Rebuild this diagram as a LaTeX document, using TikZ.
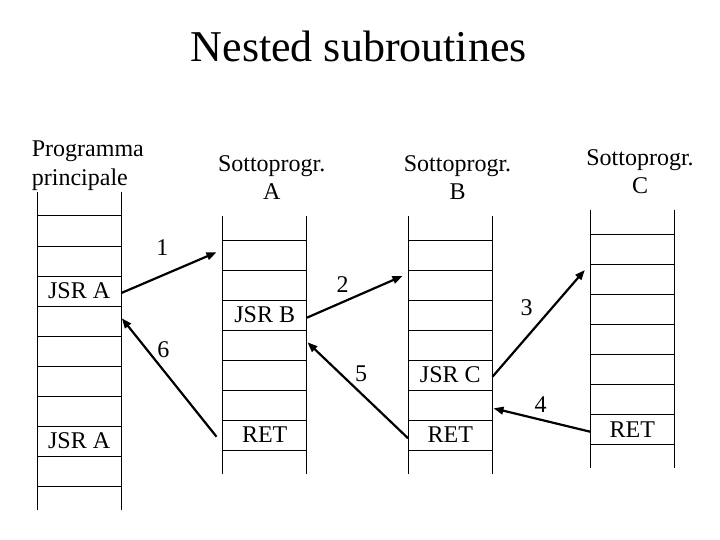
\documentclass[tikz,border=0pt]{standalone}
\usepackage{fontspec}
\setmainfont{Liberation Serif}
\usetikzlibrary{arrows.meta}
\tikzset{
    cell/.style={minimum width=84pt, minimum height=30pt, inner sep=0pt, font=\fontsize{24}{28.5}\selectfont},
    head/.style={inner sep=0pt, font=\fontsize{24}{28.3}\selectfont},
    num/.style={inner sep=0pt, font=\fontsize{24}{28}\selectfont},
    col/.style={line width=1pt},
    call/.style={line width=2.2pt, -{Triangle[length=10pt,width=7.5pt]}}
}
\begin{document}
\begin{tikzpicture}[x=1pt,y=-1pt]
                \path[fill=white, use as bounding box] (0,0) rectangle (720,540);
                \node[inner sep=0pt, anchor=base, font=\fontsize{44}{50}\selectfont] (title) at (358.8,61.7) {Nested subroutines};
                % column headings
                \node[head, align=left, anchor=west] (hmain) at (31.7,165.6) {Programma\\principale};
                \node[head, align=center] (hA) at (271.7,177.8) {Sottoprogr.\\A};
                \node[head, align=center] (hB) at (457.5,177.8) {Sottoprogr.\\B};
                \node[head, align=center] (hC) at (640,171.8) {Sottoprogr.\\C};
                % stacks
                \draw[col] (37.3,192) -- (37.3,510) (121,192) -- (121,510);
                \foreach \y in {216,246,...,486} \draw[col] (37.3,\y) -- (121,\y);
                \draw[col] (222.7,216) -- (222.7,474) (306.7,216) -- (306.7,474);
                \foreach \y in {240,270,...,450} \draw[col] (222.7,\y) -- (306.7,\y);
                \draw[col] (408.3,216) -- (408.3,474) (492.3,216) -- (492.3,474);
                \foreach \y in {240,270,...,450} \draw[col] (408.3,\y) -- (492.3,\y);
                \draw[col] (590.3,210) -- (590.3,468) (674.3,210) -- (674.3,468);
                \foreach \y in {234.3,264.3,...,444.3} \draw[col] (590.3,\y) -- (674.3,\y);
                % cells
                \node[cell] (m4) at (79.15,291) {JSR A};
                \node[cell] (m5) at (79.15,321) {};
                \node[cell] (m9) at (79.15,441) {JSR A};
                \node[cell] (a2) at (264.7,255) {};
                \node[cell] (a4) at (264.7,315) {JSR B};
                \node[cell] (a5) at (264.7,345) {};
                \node[cell] (a8) at (264.7,435) {RET};
                \node[cell] (b3) at (450.3,285) {};
                \node[cell] (b6) at (450.3,375) {JSR C};
                \node[cell] (b7) at (450.3,405) {};
                \node[cell] (b8) at (450.3,435) {RET};
                \node[cell] (c3) at (632.3,279.3) {};
                \node[cell] (c8) at (632.3,429.3) {RET};
                % calls and returns
                \draw[call] ([shift={(0,2)}]m4.east) -- ([shift={(-6,-2.7)}]a2.west);
                \draw[call] ([shift={(0,2.7)}]a4.east) -- ([shift={(-5.6,-9)}]b3.west);
                \draw[call] ([shift={(0,1.7)}]b6.east) -- ([shift={(-5.3,-9.3)}]c3.west);
                \draw[call] ([shift={(0,2.4)}]c8.west) -- ([shift={(1,3.3)}]b7.east);
                \draw[call] ([shift={(0,3.3)}]b8.west) -- ([shift={(0.6,-2.7)}]a5.east);
                \draw[call] ([shift={(-6,1.7)}]a8.west) -- ([shift={(0.5,-2.7)}]m5.east);
                \node[num] (n1) at (162.3,248) {1};
                \node[num] (n2) at (342.7,285) {2};
                \node[num] (n3) at (526.7,308) {3};
                \node[num] (n4) at (540.7,405) {4};
                \node[num] (n5) at (361,373.3) {5};
                \node[num] (n6) at (163.3,349.3) {6};
\end{tikzpicture}
\end{document}
